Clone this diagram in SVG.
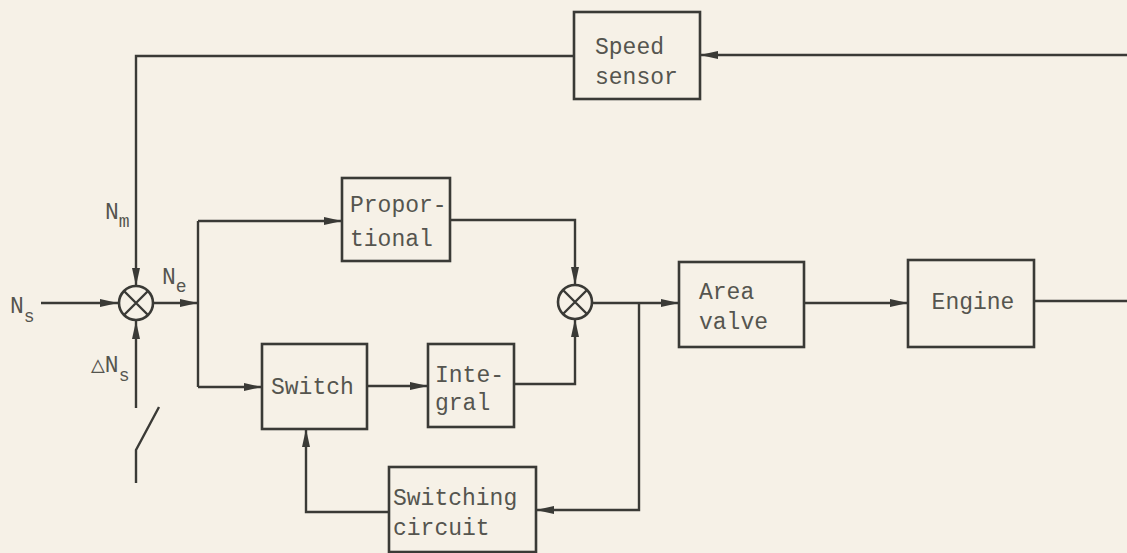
<svg xmlns="http://www.w3.org/2000/svg" width="1127" height="553" viewBox="0 0 1127 553">
<style>
.box{fill:none;stroke:#3a3a36;stroke-width:2.6}
.ln{fill:none;stroke:#3a3a36;stroke-width:2.4}
.t{font-family:"Liberation Mono","DejaVu Sans Mono",monospace;font-size:23px;fill:#55554f}
.s{font-size:18px}
</style>
<defs>
<marker id="ah" markerUnits="userSpaceOnUse" markerWidth="18" markerHeight="10" refX="18" refY="5" orient="auto">
<path d="M0,1 L18,5 L0,9 Z" fill="#3a3a36"/>
</marker>
</defs>
<rect width="1127" height="553" fill="#f6f1e7"/>
<g id="connectors">
<path class="ln" d="M1127,55 H700" marker-end="url(#ah)"/>
<path class="ln" d="M574,56 H136 V286" marker-end="url(#ah)"/>
<path class="ln" d="M41,303 H118" marker-end="url(#ah)"/>
<path class="ln" d="M136,408 V321" marker-end="url(#ah)"/>
<path class="ln" d="M136,483 V450 L159,407"/>
<path class="ln" d="M153,303 H198" marker-end="url(#ah)"/>
<path class="ln" d="M198,221 V387"/>
<path class="ln" d="M198,221 H342" marker-end="url(#ah)"/>
<path class="ln" d="M198,387 H262" marker-end="url(#ah)"/>
<path class="ln" d="M450,220 H575 V285" marker-end="url(#ah)"/>
<path class="ln" d="M367,386 H428" marker-end="url(#ah)"/>
<path class="ln" d="M514,384 H575 V319" marker-end="url(#ah)"/>
<path class="ln" d="M592,303 H679" marker-end="url(#ah)"/>
<path class="ln" d="M639,303 V510 H536" marker-end="url(#ah)"/>
<path class="ln" d="M389,512 H306 V429" marker-end="url(#ah)"/>
<path class="ln" d="M804,303 H908" marker-end="url(#ah)"/>
<path class="ln" d="M1034,301 H1127"/>
</g>
<g id="sum1">
<circle class="box" cx="136" cy="303" r="17"/>
<path class="ln" d="M124,291 L148,315 M148,291 L124,315"/>
</g>
<g id="sum2">
<circle class="box" cx="575" cy="302" r="17"/>
<path class="ln" d="M563,290 L587,314 M587,290 L563,314"/>
</g>
<g id="speed-sensor">
<rect class="box" x="574" y="12" width="126" height="87"/>
<text class="t" x="595" y="54">Speed</text>
<text class="t" x="595" y="84">sensor</text>
</g>
<g id="proportional">
<rect class="box" x="342" y="178" width="108" height="83"/>
<text class="t" x="350" y="212">Propor-</text>
<text class="t" x="350" y="246">tional</text>
</g>
<g id="switch">
<rect class="box" x="262" y="344" width="105" height="85"/>
<text class="t" x="271" y="394">Switch</text>
</g>
<g id="integral">
<rect class="box" x="428" y="344" width="86" height="83"/>
<text class="t" x="435" y="382">Inte-</text>
<text class="t" x="435" y="410">gral</text>
</g>
<g id="switching-circuit">
<rect class="box" x="389" y="467" width="147" height="85"/>
<text class="t" x="393" y="505">Switching</text>
<text class="t" x="393" y="535">circuit</text>
</g>
<g id="area-valve">
<rect class="box" x="679" y="262" width="125" height="85"/>
<text class="t" x="699" y="299">Area</text>
<text class="t" x="699" y="329">valve</text>
</g>
<g id="engine">
<rect class="box" x="908" y="260" width="126" height="87"/>
<text class="t" x="973" y="309" text-anchor="middle">Engine</text>
</g>
<g id="labels">
<text class="t" x="105" y="219">N<tspan class="s" dy="8">m</tspan></text>
<text class="t" x="162" y="284">N<tspan class="s" dy="8">e</tspan></text>
<text class="t" x="10" y="313">N<tspan class="s" dy="9">s</tspan></text>
<text class="t" x="91" y="372">△N<tspan class="s" dy="9">s</tspan></text>
</g>
</svg>
